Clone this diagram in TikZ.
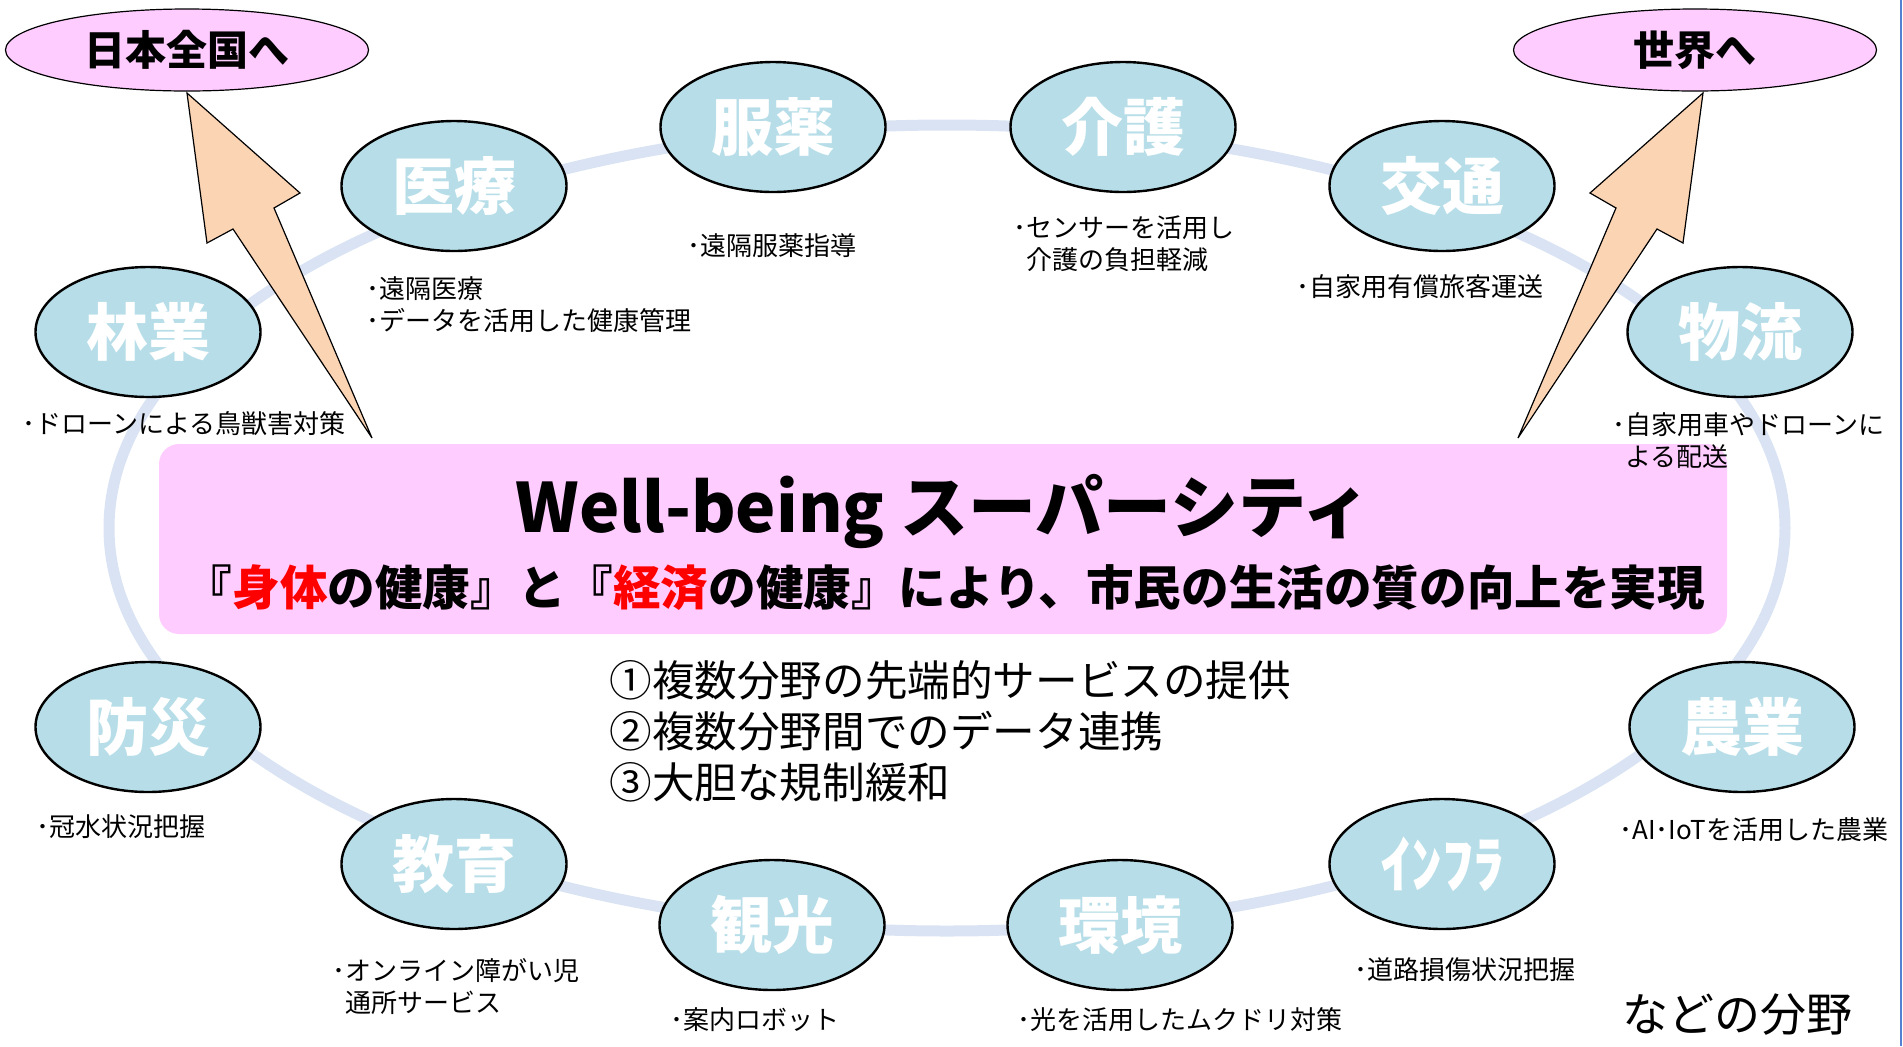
\documentclass[tikz,border=0pt]{standalone}
\usepackage{fontspec}
\setmainfont{Noto Sans CJK JP}
\usetikzlibrary{shapes.geometric,positioning}
\definecolor{ringblue}{RGB}{218,227,243}
\definecolor{fieldblue}{RGB}{183,222,232}
\definecolor{goalpink}{RGB}{255,204,255}
\definecolor{arrowpeach}{RGB}{251,212,180}
\definecolor{edgeblue}{RGB}{84,130,208}
\tikzset{
  field/.style={ellipse,draw=black,line width=1.2pt,fill=fieldblue,minimum width=112.5pt,minimum height=65pt,inner sep=0pt,text=white,font=\fontsize{31}{31}\selectfont\bfseries},
  goal/.style={ellipse,draw=black,line width=0.6pt,fill=goalpink,minimum width=181.5pt,minimum height=41pt,inner sep=0pt,font=\fontsize{20.5}{20.5}\selectfont\bfseries},
  note/.style={anchor=west,align=left,inner sep=0pt,font=\fontsize{13}{16}\selectfont},
  bigarrow/.style={fill=arrowpeach,draw=black,line width=0.6pt,line join=miter},
}
\begin{document}
\begin{tikzpicture}[x=0.5pt,y=-0.5pt]
\useasboundingbox (0,0) rectangle (1903,1046);
% ring behind the fields
\draw[ringblue,line width=5.5pt] (947,528) ellipse [x radius=838,y radius=403];
\draw[edgeblue,line width=1.2pt] (1901,0) -- (1901,1046);

% super city box
\fill[goalpink,rounded corners=10pt] (159,444) rectangle (1727,634);
\node[font=\fontsize{34}{34}\selectfont\bfseries] (title) at (943,512) {Well-being スーパーシティ};
\node[font=\fontsize{23.8}{23.8}\selectfont\bfseries] (aim) at (945,588) {『{\color{red}身体}の健康』と『{\color{red}経済}の健康』により、市民の生活の質の向上を実現};
\node[anchor=west,align=left,inner sep=0pt,font=\fontsize{21.3}{25.5}\selectfont] (list) at (609,731) {①複数分野の先端的サービスの提供\\②複数分野間でのデータ連携\\③大胆な規制緩和};

% fields round the ring
\node[field] (rin) at (148,332) {林業};
\node[field] (iry) at (454,186) {医療};
\node[field] (fuk) at (773,127) {服薬};
\node[field] (kai) at (1123,127) {介護};
\node[field] (kot) at (1442,186) {交通};
\node[field] (but) at (1740,332) {物流};
\node[field] (bos) at (148,727) {防災};
\node[field] (kyo) at (454,864) {教育};
\node[field] (kan) at (772,925) {観光};
\node[field] (kky) at (1120,925) {環境};
\node[field] (inf) at (1442,864) {ｲﾝﾌﾗ};
\node[field] (nog) at (1742,727) {農業};

% notes
\node[note] (rin-note) at (22,424) {･ドローンによる鳥獣害対策};
\node[note] (iry-note) at (366,305) {･遠隔医療\\･データを活用した健康管理};
\node[note] (fuk-note) at (687,246) {･遠隔服薬指導};
\node[note] (kai-note) at (1013,244) {･センサーを活用し\\\phantom{･}介護の負担軽減};
\node[note] (kot-note) at (1296,287) {･自家用有償旅客運送};
\node[note] (but-note) at (1612,441) {･自家用車やドローンに\\\phantom{･}よる配送};
\node[note] (bos-note) at (36,827) {･冠水状況把握};
\node[note] (kyo-note) at (332,987) {･オンライン障がい児\\\phantom{･}通所サービス};
\node[note] (kan-note) at (670,1020) {･案内ロボット};
\node[note] (kky-note) at (1017,1020) {･光を活用したムクドリ対策};
\node[note] (inf-note) at (1354,970) {･道路損傷状況把握};
\node[note] (nog-note) at (1619,830) {･AI･IoTを活用した農業};
\node[anchor=west,inner sep=0pt,font=\fontsize{23}{23}\selectfont] (etc) at (1622,1015) {などの分野};

% goals and arrows
\node[goal] (japan) at (187,50) {日本全国へ};
\node[goal] (world) at (1695,50) {世界へ};
\draw[bigarrow] (187,93) -- (207,243) -- (233,229) -- (372,438) -- (274,208) -- (300,193) -- cycle;
\draw[bigarrow] (1703,93) -- (1683,243) -- (1657,229) -- (1518,438) -- (1616,208) -- (1590,193) -- cycle;
\end{tikzpicture}
\end{document}
